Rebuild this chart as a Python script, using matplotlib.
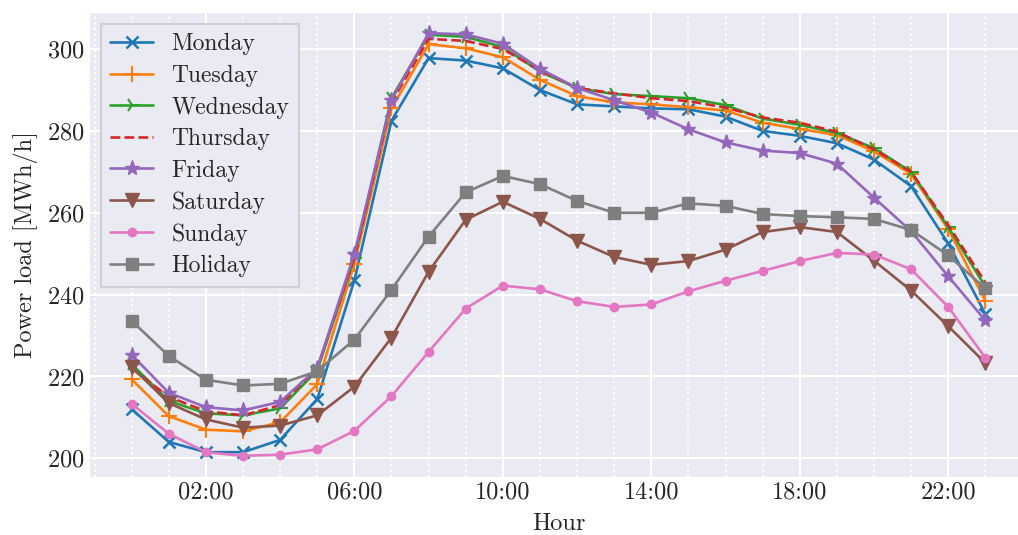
import numpy as np
import matplotlib.pyplot as plt
import seaborn as sns
from matplotlib.ticker import FixedLocator, MultipleLocator

sns.set_style("darkgrid")
plt.rcParams['font.family'] = ['cmr10', 'DejaVu Serif']
plt.rcParams['axes.formatter.use_mathtext'] = True
plt.rcParams['font.size'] = 17.5

# hourly load profiles (MWh/h)
hours = np.arange(24)
monday = [212, 204, 201.5, 201.5, 204.5, 214.5, 243.5, 282.5, 297.8, 297.2, 295.3, 290,
          286.5, 286, 285.5, 285.3, 283.5, 280, 278.8, 277, 273, 266.5, 252.5, 235.3]
tuesday = [219.3, 210.3, 207, 206.6, 208.8, 218.1, 247.5, 285.5, 301.2, 300.2, 298, 292.5,
           288.5, 287, 286.5, 285.8, 285, 282, 280.5, 279, 275, 269.5, 256, 238.5]
wednesday = [223, 214, 211, 210.5, 212.2, 221.5, 249, 288, 303.5, 303, 300.5, 294.5,
             290.5, 289, 288.5, 288, 286.3, 283, 281.5, 279.5, 275.8, 270, 256.5, 242]
thursday = [222, 215, 211.5, 210.5, 213, 222, 249, 287, 302.5, 302, 300, 294.8,
            290.5, 289.2, 288, 287.3, 285.7, 283.3, 282, 279.8, 275.5, 270, 257, 243]
friday = [225.3, 216, 212.5, 211.7, 213.8, 222, 250, 287.5, 303.9, 303.6, 301.3, 295.2,
          290.5, 287.5, 284.5, 280.4, 277.2, 275.2, 274.6, 272, 263.7, 255.5, 244.5, 233.7]
saturday = [222.3, 213.5, 209.5, 207.5, 208, 210.5, 217.5, 229.5, 245.6, 258.3, 262.7, 258.5,
            253.2, 249.2, 247.3, 248.2, 251, 255.3, 256.5, 255.3, 248.3, 241, 232.3, 223.3]
sunday = [213.3, 206, 201.5, 200.6, 200.9, 202.2, 206.7, 215.2, 226, 236.6, 242.2, 241.3,
          238.4, 237, 237.6, 240.8, 243.4, 245.8, 248.2, 250.2, 249.8, 246.2, 237, 224.6]
holiday = [233.6, 225, 219.2, 217.8, 218.2, 221.3, 229, 241.2, 254.2, 265, 269, 267,
           262.9, 260, 260, 262.3, 261.7, 259.7, 259.2, 258.9, 258.5, 255.8, 249.6, 241.5]

series = [("Monday", monday, dict(marker='x', ms=9, mew=1.8)),
          ("Tuesday", tuesday, dict(marker='+', ms=12, mew=1.5)),
          ("Wednesday", wednesday, dict(marker='4', ms=11, mew=1.5)),
          ("Thursday", thursday, dict(ls='--')),
          ("Friday", friday, dict(marker='*', ms=11)),
          ("Saturday", saturday, dict(marker='v', ms=10)),
          ("Sunday", sunday, dict(marker='o', ms=6)),
          ("Holiday", holiday, dict(marker='s', ms=9))]

tick_hours = [2, 6, 10, 14, 18, 22]
tick_labels = ["%02d:00" % h for h in tick_hours]

fig = plt.figure(figsize=(10.18, 5.35), dpi=100)
ax = fig.add_axes([89 / 1018, 58 / 535, 939 / 1018, 465 / 535])

for i, (name, vals, kw) in enumerate(series):
    ax.plot(hours, vals, color='C%d' % i, lw=1.9, label=name, **kw)

ax.xaxis.set_major_locator(FixedLocator(tick_hours))
ax.set_xticklabels(tick_labels)
ax.xaxis.set_minor_locator(MultipleLocator(1))
ax.grid(which='major', color='white', lw=1.5)
ax.grid(which='minor', axis='x', color='white', ls=':', lw=1.5)
ax.set_yticks([200, 220, 240, 260, 280, 300])
ax.tick_params(which='both', length=0)

ax.set_xlabel("Hour", labelpad=6.5)
ax.set_ylabel("Power load [MWh/h]", labelpad=6)

leg = ax.legend(loc='upper left', fontsize=17, fancybox=False, framealpha=1,
                facecolor='#EAEAF2', edgecolor='#D0D0D4', borderaxespad=0.5,
                handlelength=1.8, labelspacing=0.4)
leg.get_frame().set_linewidth(1.5)

fig.savefig("out.png", dpi=100)
